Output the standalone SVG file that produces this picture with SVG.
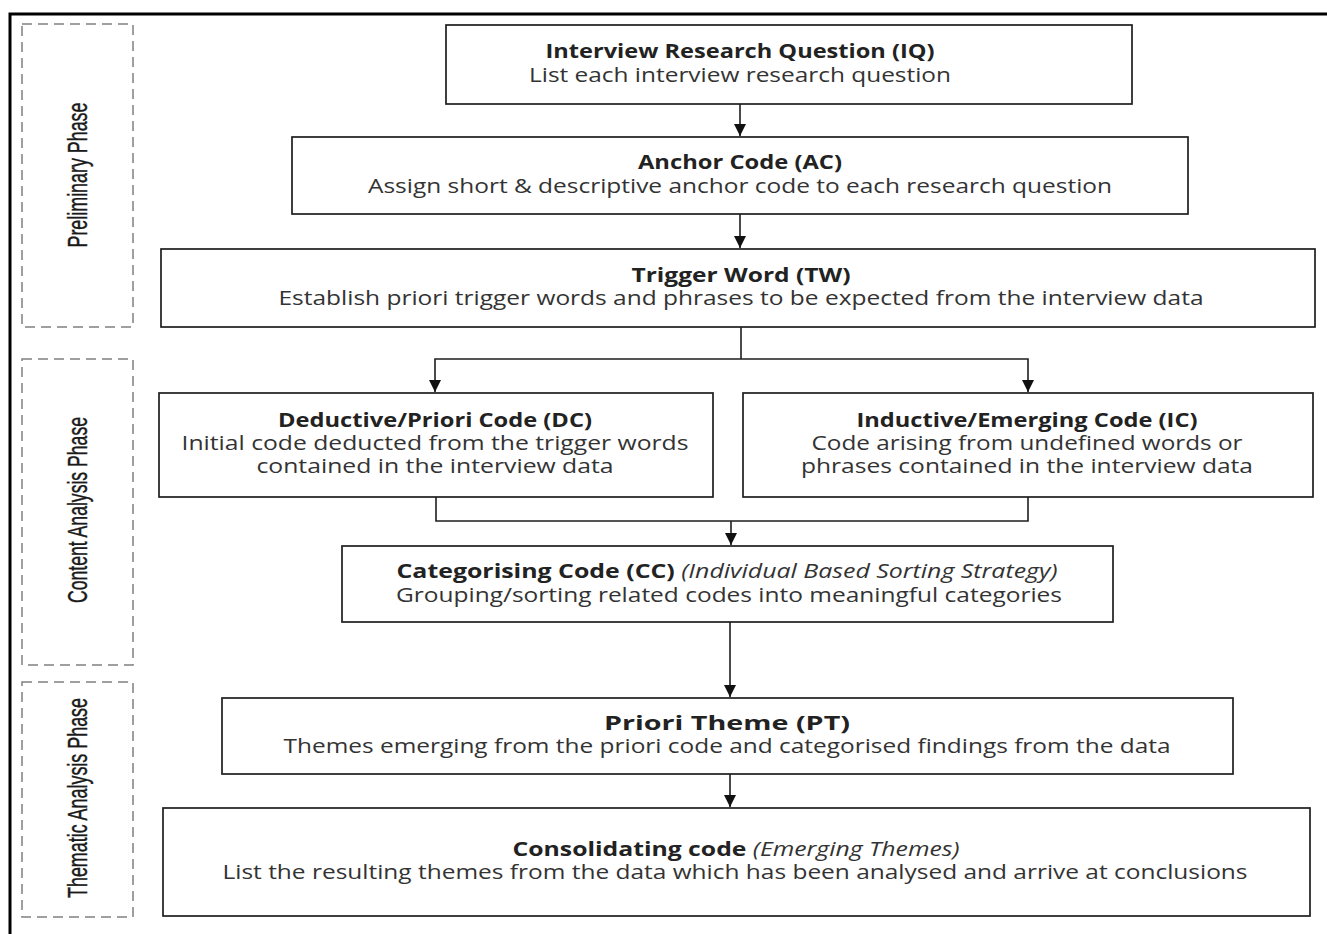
<svg xmlns="http://www.w3.org/2000/svg" width="1327" height="934" viewBox="0 0 1327 934">
<defs>
<style>
.bg{fill:#ffffff}
.frame{fill:none;stroke:#000;stroke-width:3}
.phase{fill:none;stroke:#808080;stroke-width:1.5;stroke-dasharray:10 6}
.phtxt{font-family:"Liberation Sans",Arial,sans-serif;font-size:27px;fill:#1a1a1a;text-anchor:middle;stroke:#1a1a1a;stroke-width:0.4}
.box{fill:#fff;stroke:#1e1e1e;stroke-width:1.7}
.t{font-family:"Open Sans","Liberation Sans",sans-serif;font-size:20px;font-weight:700;fill:#222;text-anchor:middle}
.s{font-family:"Open Sans","Liberation Sans",sans-serif;font-size:20px;fill:#333;text-anchor:middle}
.it{font-weight:400;font-style:italic;fill:#333}
.con{fill:none;stroke:#1e1e1e;stroke-width:1.6}
</style>
<marker id="arr" viewBox="0 0 10 10" refX="10" refY="5" markerWidth="12" markerHeight="12" markerUnits="userSpaceOnUse" orient="auto">
<path d="M0,0 L10,5 L0,10 z" fill="#111"/>
</marker>
</defs>
<rect class="bg" x="0" y="0" width="1327" height="934"/>
<path class="frame" d="M10,934 L10,14 L1327,14"/>

<g id="phase-preliminary">
<rect class="phase" x="22" y="24" width="111" height="303"/>
<text class="phtxt" transform="translate(87,175) rotate(-90)" textLength="145" lengthAdjust="spacingAndGlyphs">Preliminary Phase</text>
</g>
<g id="phase-content">
<rect class="phase" x="22" y="359" width="111" height="306"/>
<text class="phtxt" transform="translate(87,510) rotate(-90)" textLength="186" lengthAdjust="spacingAndGlyphs">Content Analysis Phase</text>
</g>
<g id="phase-thematic">
<rect class="phase" x="22" y="682" width="111" height="235"/>
<text class="phtxt" transform="translate(87,798) rotate(-90)" textLength="200" lengthAdjust="spacingAndGlyphs">Thematic Analysis Phase</text>
</g>

<g id="connectors">
<path class="con" d="M740,104 L740,136" marker-end="url(#arr)"/>
<path class="con" d="M740,214 L740,248" marker-end="url(#arr)"/>
<path class="con" d="M741,327 L741,359"/>
<path class="con" d="M741,359 L435,359 L435,392" marker-end="url(#arr)"/>
<path class="con" d="M741,359 L1028,359 L1028,392" marker-end="url(#arr)"/>
<path class="con" d="M436,497 L436,521 L1028,521 L1028,497"/>
<path class="con" d="M731,521 L731,545" marker-end="url(#arr)"/>
<path class="con" d="M730,622 L730,697" marker-end="url(#arr)"/>
<path class="con" d="M730,774 L730,807" marker-end="url(#arr)"/>
</g>

<g id="node-iq">
<rect class="box" x="446" y="25" width="686" height="79"/>
<text class="t" x="740" y="58" textLength="389" lengthAdjust="spacingAndGlyphs">Interview Research Question (IQ)</text>
<text class="s" x="740" y="82" textLength="422" lengthAdjust="spacingAndGlyphs">List each interview research question</text>
</g>
<g id="node-ac">
<rect class="box" x="292" y="137" width="896" height="77"/>
<text class="t" x="740" y="169" textLength="204" lengthAdjust="spacingAndGlyphs">Anchor Code (AC)</text>
<text class="s" x="740" y="193" textLength="744" lengthAdjust="spacingAndGlyphs">Assign short &amp; descriptive anchor code to each research question</text>
</g>
<g id="node-tw">
<rect class="box" x="161" y="249" width="1154" height="78"/>
<text class="t" x="741" y="282" textLength="219" lengthAdjust="spacingAndGlyphs">Trigger Word (TW)</text>
<text class="s" x="741" y="305" textLength="925" lengthAdjust="spacingAndGlyphs">Establish priori trigger words and phrases to be expected from the interview data</text>
</g>
<g id="node-dc">
<rect class="box" x="159" y="393" width="554" height="104"/>
<text class="t" x="435" y="427" textLength="314" lengthAdjust="spacingAndGlyphs">Deductive/Priori Code (DC)</text>
<text class="s" x="435" y="450" textLength="507" lengthAdjust="spacingAndGlyphs">Initial code deducted from the trigger words</text>
<text class="s" x="435" y="473" textLength="357" lengthAdjust="spacingAndGlyphs">contained in the interview data</text>
</g>
<g id="node-ic">
<rect class="box" x="743" y="393" width="570" height="104"/>
<text class="t" x="1027" y="427" textLength="341" lengthAdjust="spacingAndGlyphs">Inductive/Emerging Code (IC)</text>
<text class="s" x="1027" y="450" textLength="431" lengthAdjust="spacingAndGlyphs">Code arising from undefined words or</text>
<text class="s" x="1027" y="473" textLength="452" lengthAdjust="spacingAndGlyphs">phrases contained in the interview data</text>
</g>
<g id="node-cc">
<rect class="box" x="342" y="546" width="771" height="76"/>
<text class="t" x="727" y="578" textLength="661" lengthAdjust="spacingAndGlyphs">Categorising Code (CC) <tspan class="it">(Individual Based Sorting Strategy)</tspan></text>
<text class="s" x="729" y="602" textLength="666" lengthAdjust="spacingAndGlyphs">Grouping/sorting related codes into meaningful categories</text>
</g>
<g id="node-pt">
<rect class="box" x="222" y="698" width="1011" height="76"/>
<text class="t" x="727" y="730" textLength="246" lengthAdjust="spacingAndGlyphs">Priori Theme (PT)</text>
<text class="s" x="727" y="753" textLength="887" lengthAdjust="spacingAndGlyphs">Themes emerging from the priori code and categorised findings from the data</text>
</g>
<g id="node-cons">
<rect class="box" x="163" y="808" width="1147" height="108"/>
<text class="t" x="736" y="856" textLength="447" lengthAdjust="spacingAndGlyphs">Consolidating code <tspan class="it">(Emerging Themes)</tspan></text>
<text class="s" x="735" y="879" textLength="1025" lengthAdjust="spacingAndGlyphs">List the resulting themes from the data which has been analysed and arrive at conclusions</text>
</g>
</svg>
